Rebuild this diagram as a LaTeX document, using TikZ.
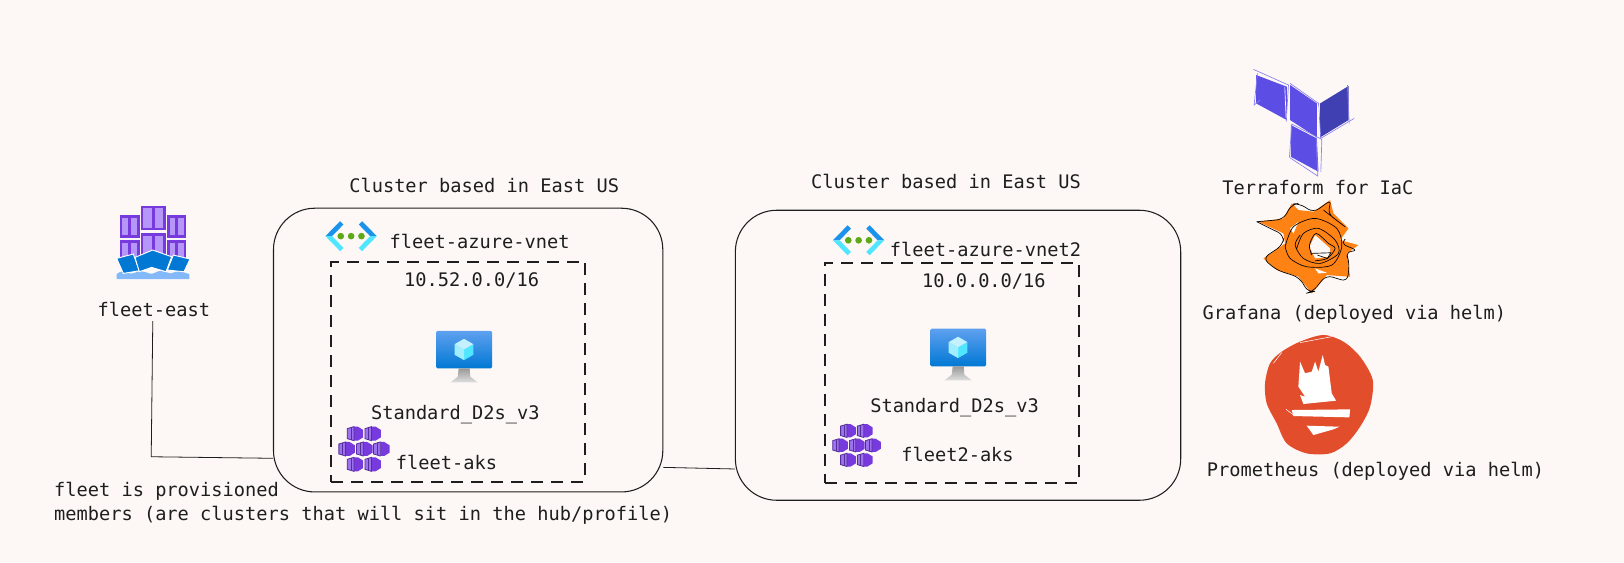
\documentclass[tikz,border=0pt]{standalone}
\usepackage{fontspec}
\setmonofont{DejaVu Sans Mono}
\usetikzlibrary{
	positioning,
	calc
}
\definecolor{paper}{HTML}{FDF8F6}
\definecolor{ink}{HTML}{1E1E1E}
\definecolor{azureDark}{HTML}{0078D4}
\definecolor{azureMid}{HTML}{5EA0EF}
\definecolor{azureSoft}{HTML}{83B9F9}
\definecolor{azureChevron}{HTML}{1B93EB}
\definecolor{azureCyan}{HTML}{50E6FF}
\definecolor{azurePale}{HTML}{C3F1FF}
\definecolor{vnetGreen}{HTML}{5EA918}
\definecolor{fleetPurple}{HTML}{773ADC}
\definecolor{fleetLight}{HTML}{B796F9}
\definecolor{fleetDark}{HTML}{552F99}
\definecolor{tfPurple}{HTML}{5C4EE5}
\definecolor{tfDark}{HTML}{4040B2}
\definecolor{tfSketch}{HTML}{8A80F0}
\definecolor{grafanaOrange}{HTML}{FF8214}
\definecolor{promRed}{HTML}{E24E2C}

\tikzset{
	pics/fleetIcon/.style={code={
		\foreach \xa/\ya/\xb/\yb in {120/182/178/240, 183/160/257/230, 262/182/318/240, 120/106/178/172, 183/78/257/150, 262/106/318/172}{
			\draw[fleetPurple, line width=2.1pt, fill=fleetLight] (\xa+3,\ya+3) rectangle (\xb-3,\yb-3);
			\draw[fleetPurple, line width=1.8pt] ({(\xa+\xb)/2},\ya) -- ({(\xa+\xb)/2},\yb);
		}
		\fill[azureSoft] (110,282) .. controls (135,262) and (150,290) .. (165,278) .. controls (190,262) and (205,290) .. (225,278) .. controls (250,262) and (270,290) .. (285,276) .. controls (300,268) and (315,280) .. (328,282) -- (328,297) -- (110,297) -- cycle;
		\draw[fill=azureDark, draw=white, line width=.7pt] (110,235) -- (160,222) -- (178,272) -- (130,280) -- cycle;
		\draw[fill=azureDark, draw=white, line width=.7pt] (330,237) -- (280,225) -- (262,270) -- (312,275) -- cycle;
		\draw[fill=azureDark, draw=white, line width=.7pt] (165,232) -- (218,210) -- (275,230) -- (258,275) -- (215,262) -- (178,275) -- cycle;
	}},
	pics/vnetIcon/.style={code={
		\fill[azureChevron] (-77,0) -- (-33,-45) -- (-23,-35) -- (-57,0) -- cycle;
		\fill[azureCyan] (-57,0) -- (-23,35) -- (-33,45) -- (-77,0) -- cycle;
		\fill[azureChevron] (77,0) -- (33,-45) -- (23,-35) -- (57,0) -- cycle;
		\fill[azureCyan] (57,0) -- (23,35) -- (33,45) -- (77,0) -- cycle;
		\foreach \dot in {-31, 0, 31}{
			\fill[vnetGreen] (\dot,0) circle (10);
		}
	}},
	pics/vmIcon/.style={code={
		\shade[top color=azureMid, bottom color=azureDark, rounded corners=1pt] (-83,-78) rectangle (84,35);
		\shade[top color=gray!80, bottom color=gray!25] (-16,35) -- (17,35) -- (19,60) -- (42,77) -- (-41,77) -- (-19,60) -- cycle;
		\fill[azureCyan] (0,-22) -- (28,-38) -- (28,-6) -- (0,10) -- cycle;
		\fill[azurePale!70!azureCyan] (0,-22) -- (-28,-38) -- (-28,-6) -- (0,10) -- cycle;
		\fill[azurePale] (0,-54) -- (28,-38) -- (0,-22) -- (-28,-38) -- cycle;
	}},
	pics/aksIcon/.style={code={
		\foreach \dx/\dy in {-28/-46, 25/-46, -53/0, 0/0, 51/0, -28/46, 25/46}{
			\begin{scope}[shift={(\dx,\dy)}]
				\fill[fleetPurple] (-4,-21) -- (8,-21) -- (24,-11) -- (24,11) -- (8,21) -- (-4,21) -- cycle;
				\draw[fleetDark, fill=fleetLight!60!fleetPurple, line width=.6pt] (-24,-15) -- (-4,-21) -- (-4,21) -- (-24,15) -- cycle;
				\draw[fleetDark, line width=.6pt] (-13,-18) -- (-13,18);
			\end{scope}
		}
	}},
	pics/terraformIcon/.style={code={
		\fill[tfPurple] (318,75) -- (410,110) -- (410,210) -- (318,160) -- cycle;
		\fill[tfPurple] (420,105) -- (500,160) -- (500,262) -- (420,210) -- cycle;
		\fill[tfDark] (510,160) -- (595,108) -- (595,210) -- (510,262) -- cycle;
		\fill[tfPurple] (422,225) -- (500,265) -- (505,365) -- (422,320) -- cycle;
		\draw[tfSketch, line width=.5pt] (310,58) -- (415,105) -- (408,215);
		\draw[tfSketch, line width=.5pt] (322,70) -- (312,165) -- (330,150);
		\draw[tfSketch, line width=.5pt] (420,100) -- (505,160) -- (512,265) -- (612,205);
		\draw[tfSketch, line width=.5pt] (592,105) -- (597,220);
		\draw[tfSketch, line width=.5pt] (418,320) -- (425,222) -- (515,268) -- (512,365);
		\draw[tfSketch, line width=.5pt] (418,322) -- (503,378) -- (498,262);
		\draw[white, line width=.5pt] (404,112) -- (408,205);
		\draw[white, line width=.5pt] (506,170) -- (502,255);
	}},
	pics/grafanaIcon/.style={code={
		\fill[grafanaOrange] (155,40) -- (175,60) -- (220,65) -- (270,30) -- (280,70) -- (325,115) -- (300,150) -- (355,165) -- (320,190) -- (330,260) -- (260,255) -- (215,310) -- (175,260) -- (110,240) -- (70,205) -- (135,160) -- (130,130) -- (55,95) -- (130,85) -- cycle;
		\fill[white] (150,115) -- (175,95) -- (160,130) -- cycle;
		\fill[white] (225,235) -- (260,248) -- (235,250) -- cycle;
		\fill[paper] (225,135) -- (270,175) -- (270,200) -- (225,205) -- (208,170) -- cycle;
		\draw[black, line width=.5pt, rounded corners=5pt] (50,95) -- (130,88) -- (155,42) -- (178,40) -- (220,68) -- (275,28) -- (262,70) -- (325,118) -- (250,60);
		\draw[black, line width=.5pt, rounded corners=5pt] (50,95) -- (90,115) -- (132,135) -- (128,165) -- (68,205) -- (110,240) -- (178,262) -- (205,308) -- (218,305) -- (258,255) -- (322,275) -- (328,215) -- (315,185) -- (355,182) -- (300,160) -- (312,150);
		\draw[black, line width=.5pt] plot[smooth] coordinates {(135,170) (160,110) (225,85) (290,115) (305,170) (275,225) (200,230) (150,205) (135,170)};
		\draw[black, line width=.5pt] plot[smooth] coordinates {(170,175) (190,130) (235,115) (285,150) (295,190) (240,220) (190,205) (165,165) (180,135)};
		\draw[black, line width=.5pt] plot[smooth] coordinates {(215,195) (208,165) (228,130) (265,160) (285,175) (262,205) (225,212)};
		\draw[black, line width=.5pt] (212,190) -- (272,188) -- (262,205) -- (232,195);
	}},
	pics/prometheusIcon/.style={code={
		\fill[promRed] plot[smooth cycle] coordinates {(45,160) (60,100) (95,65) (150,35) (220,15) (280,35) (330,80) (368,150) (360,230) (330,290) (290,340) (240,370) (170,370) (110,340) (80,280) (50,220)};
		\fill[white] (150,95) -- (165,130) -- (185,125) -- (195,95) -- (205,125) -- (218,75) -- (225,105) -- (235,110) -- (245,190) -- (258,212) -- (160,222) -- (150,195) -- (165,200) -- (145,170) -- cycle;
		\fill[white] (125,240) -- (300,238) -- (298,262) -- (130,258) -- cycle;
		\fill[white] (170,287) -- (268,290) -- (250,298) -- (190,315) -- cycle;
		\draw[white, line width=.4pt] (108,238) -- (135,258);
		\draw[white, line width=.4pt] (70,100) -- (95,68);
		\draw[white, line width=.4pt] (150,38) -- (245,20);
	}}
}

\begin{document}
\begin{tikzpicture}[x=0.7768pt, y=-0.7768pt]
		\tikzstyle{clusterBox} = [draw=ink, line width=0.8pt, rounded corners=31pt, inner sep=0pt]
		\tikzstyle{subnetBox} = [draw=ink, line width=1.5pt, dash pattern=on 9pt off 6pt, inner sep=0pt]
		\tikzstyle{textLabel} = [anchor=west, inner sep=0pt, text=ink, font=\ttfamily\fontsize{14}{18.6}\selectfont, text height=10pt, text depth=3pt]
		\tikzstyle{iconSize} = [scale=0.322]
		\tikzstyle{wire} = [draw=ink, line width=0.6pt]

		% Background
		\fill[paper] (0,0) rectangle (1568,542.7);
		\useasboundingbox (0,0) rectangle (1568,542.7);

		% Clusters
		\node[clusterBox, minimum width=292pt, minimum height=212.8pt] at (452,338) (clusterOne) {};
		\node[clusterBox, minimum width=334pt, minimum height=217.5pt] at (925,343) (clusterTwo) {};
		\node[subnetBox, minimum width=190.3pt, minimum height=164.7pt] at (442.5,359) (subnetOne) {};
		\node[subnetBox, minimum width=191pt, minimum height=164.7pt] at (919,360) (subnetTwo) {};

		% Icons
		\pic[iconSize] at (77.2,173.8) {fleetIcon};
		\pic[iconSize] at (339,228) {vnetIcon};
		\pic[iconSize] at (829,232) {vnetIcon};
		\pic[iconSize] at (448,344.5) {vmIcon};
		\pic[iconSize] at (925,342.5) {vmIcon};
		\pic[iconSize] at (352,433.5) {aksIcon};
		\pic[scale=0.305] at (827.5,430) {aksIcon};
		\pic[iconSize] at (1110.4,48.3) {terraformIcon};
		\pic[iconSize] at (1197.3,183.5) {grafanaIcon};
		\pic[iconSize] at (1206.9,318.6) {prometheusIcon};

		% Labels
		\node[textLabel] at (337,181.5) (clusterOneTitle) {Cluster based in East US};
		\node[textLabel] at (783,177.5) (clusterTwoTitle) {Cluster based in East US};
		\node[textLabel] at (376,235.5) (vnetOne) {fleet-azure-vnet};
		\node[textLabel] at (859,243.5) (vnetTwo) {fleet-azure-vnet2};
		\node[textLabel] at (390,272.5) (cidrOne) {10.52.0.0/16};
		\node[textLabel] at (890,273.5) (cidrTwo) {10.0.0.0/16};
		\node[textLabel] at (358,400.5) (skuOne) {Standard\_D2s\_v3};
		\node[textLabel] at (840,393.5) (skuTwo) {Standard\_D2s\_v3};
		\node[textLabel] at (382,448.5) (aksOne) {fleet-aks};
		\node[textLabel] at (870,441.5) (aksTwo) {fleet2-aks};
		\node[textLabel] at (94,301.5) (fleetEast) {fleet-east};
		\node[textLabel, text height=, text depth=, align=left] at (52,486) (fleetNote) {fleet is provisioned\\members (are clusters that will sit in the hub/profile)};
		\node[textLabel] at (1180,183.5) (terraformLabel) {Terraform for IaC};
		\node[textLabel] at (1161,303.5) (grafanaLabel) {Grafana (deployed via helm)};
		\node[textLabel] at (1165,455.5) (prometheusLabel) {Prometheus (deployed via helm)};

		% Connectors
		\coordinate (fleetBend) at (146,441);
		\draw[wire] (fleetEast.south) ++(-1,0) -- (fleetBend) -- (clusterOne.209);
		\draw[wire] (clusterOne.329) -- (clusterTwo.207);
	\end{tikzpicture}
\end{document}
